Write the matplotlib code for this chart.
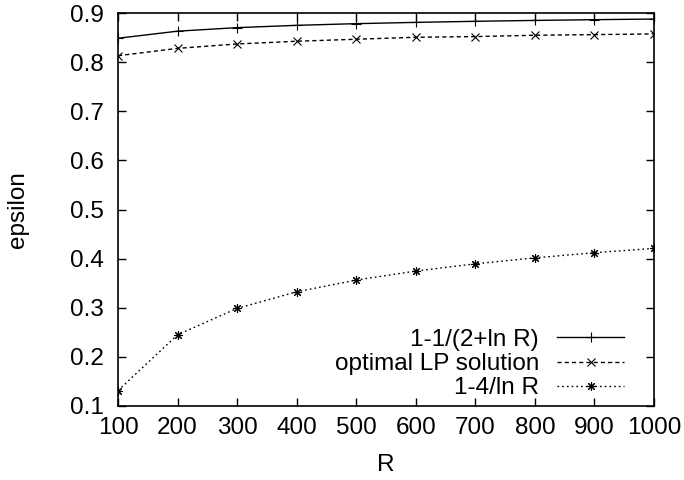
import matplotlib
matplotlib.use("Agg")
import matplotlib.pyplot as plt

R = [100, 200, 300, 400, 500, 600, 700, 800, 900, 1000]
bound_upper = [0.8486, 0.8630, 0.8702, 0.8749, 0.8783, 0.8809, 0.8831, 0.8849, 0.8864, 0.8877]
lp_optimal = [0.813, 0.828, 0.837, 0.8425, 0.8466, 0.8506, 0.852, 0.8547, 0.856, 0.8574]
bound_lower = [0.1314, 0.2450, 0.2987, 0.3324, 0.3564, 0.3747, 0.3894, 0.4016, 0.4120, 0.4209]

xticks = [100, 200, 300, 400, 500, 600, 700, 800, 900, 1000]
yticks = [0.1, 0.2, 0.3, 0.4, 0.5, 0.6, 0.7, 0.8, 0.9]

plt.rcParams['font.family'] = ['Liberation Sans', 'DejaVu Sans']
FS = 17.5

fig = plt.figure(figsize=(6.84, 4.8), dpi=100)
ax = fig.add_axes([118/684, 1 - 406/480, (654-118)/684, (406-13)/480])

lw = 1.0
ax.plot(R, bound_upper, color='black', lw=lw, ls='-', marker='+', ms=7, mew=0.8,
        label='1-1/(2+ln R)')
ax.plot(R, lp_optimal, color='black', lw=lw, ls=(0, (3.0, 2.2)), marker='x', ms=5.5, mew=0.8,
        label='optimal LP solution')
ax.plot(R, bound_lower, color='black', lw=lw, ls=(0, (1.2, 2.2)), marker=(8, 2, 0), ms=6.5, mew=0.8,
        label='1-4/ln R')

ax.set_xlim(100, 1000)
ax.set_ylim(0.1, 0.9)
ax.set_xticks(xticks)
ax.set_xticklabels([str(v) for v in xticks])
ax.set_yticks(yticks)
ax.set_yticklabels([f"{v:.1f}" for v in yticks])
ax.tick_params(direction='in', length=6, width=1, top=True, right=True, labelsize=FS)
ax.tick_params(axis='x', pad=8)
ax.tick_params(axis='y', pad=10)
for s in ax.spines.values():
    s.set_linewidth(1.2)

ax.set_xlabel('R', fontsize=FS, labelpad=11)
ax.set_ylabel('epsilon', fontsize=FS, labelpad=30)

leg = ax.legend(loc='center right', frameon=False, fontsize=FS, markerfirst=False,
                handlelength=2.75, handletextpad=0.75, labelspacing=0.1,
                borderpad=0, borderaxespad=0,
                bbox_to_anchor=((624-118)/536, (406-364)/393))
for t in leg.get_texts():
    t.set_ha('right')

fig.savefig('out.png', dpi=100)
